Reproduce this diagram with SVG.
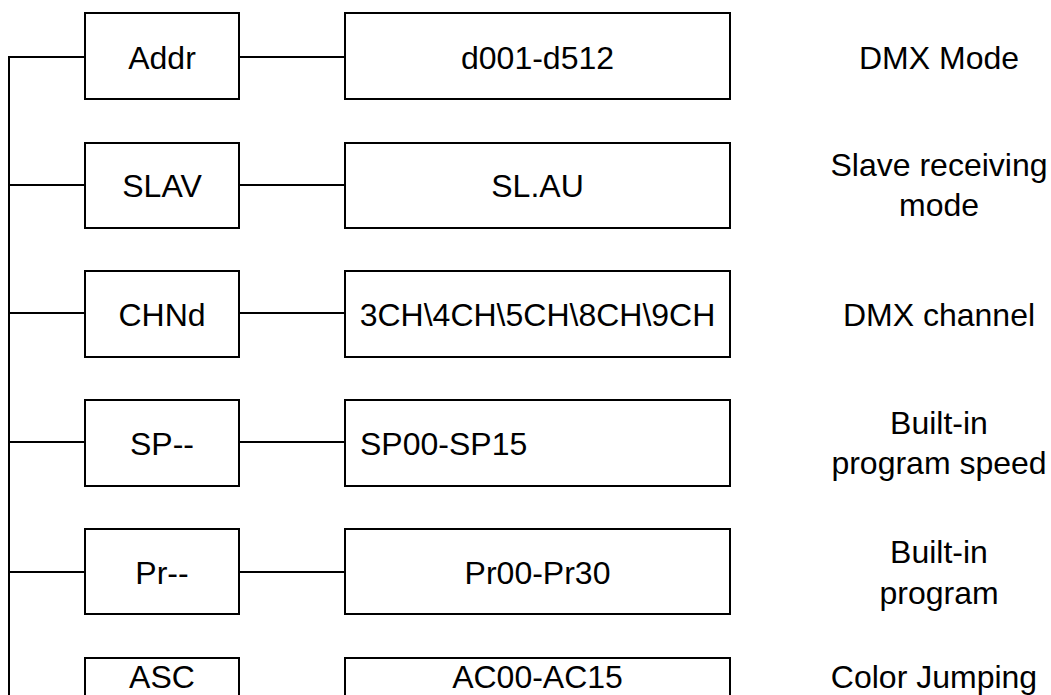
<svg xmlns="http://www.w3.org/2000/svg" width="1051" height="695" viewBox="0 0 1051 695">
<style>
.box{fill:#fff;stroke:#000;stroke-width:2}
.ln{stroke:#000;stroke-width:2;fill:none}
text{font-family:"Liberation Sans",Arial,sans-serif;font-size:32px;fill:#000}
.m{text-anchor:middle}
</style>
<rect width="1051" height="695" fill="#fff"/>
<g id="connectors">
<line class="ln" x1="9" y1="57" x2="9" y2="702"/>
<line class="ln" x1="8" y1="57" x2="85" y2="57"/>
<line class="ln" x1="239" y1="57" x2="345" y2="57"/>
<line class="ln" x1="9" y1="185" x2="85" y2="185"/>
<line class="ln" x1="239" y1="185" x2="345" y2="185"/>
<line class="ln" x1="9" y1="313" x2="85" y2="313"/>
<line class="ln" x1="239" y1="313" x2="345" y2="313"/>
<line class="ln" x1="9" y1="442" x2="85" y2="442"/>
<line class="ln" x1="239" y1="442" x2="345" y2="442"/>
<line class="ln" x1="9" y1="572" x2="85" y2="572"/>
<line class="ln" x1="239" y1="572" x2="345" y2="572"/>
</g>
<g id="addr"><rect class="box" x="85" y="13" width="154" height="86"/><text class="m" x="162" y="68.5">Addr</text></g>
<g id="addr-val"><rect class="box" x="345" y="13" width="385" height="86"/><text class="m" x="537.5" y="68.5">d001-d512</text></g>
<g id="addr-desc"><text class="m" x="939" y="68.5">DMX Mode</text></g>
<g id="slav"><rect class="box" x="85" y="143" width="154" height="85"/><text class="m" x="162" y="197">SLAV</text></g>
<g id="slav-val"><rect class="box" x="345" y="143" width="385" height="85"/><text class="m" x="537.5" y="197">SL.AU</text></g>
<g id="slav-desc"><text class="m" x="939" y="176">Slave receiving</text><text class="m" x="939" y="216">mode</text></g>
<g id="chnd"><rect class="box" x="85" y="271" width="154" height="86"/><text class="m" x="162" y="325.5">CHNd</text></g>
<g id="chnd-val"><rect class="box" x="345" y="271" width="385" height="86"/><text class="m" x="537.5" y="325.5">3CH\4CH\5CH\8CH\9CH</text></g>
<g id="chnd-desc"><text class="m" x="939" y="325.5">DMX channel</text></g>
<g id="sp"><rect class="box" x="85" y="400" width="154" height="86"/><text class="m" x="162" y="454.5">SP--</text></g>
<g id="sp-val"><rect class="box" x="345" y="400" width="385" height="86"/><text x="360" y="454.5">SP00-SP15</text></g>
<g id="sp-desc"><text class="m" x="939" y="434">Built-in</text><text class="m" x="939" y="474">program speed</text></g>
<g id="pr"><rect class="box" x="85" y="529" width="154" height="85"/><text class="m" x="162" y="583.5">Pr--</text></g>
<g id="pr-val"><rect class="box" x="345" y="529" width="385" height="85"/><text class="m" x="537.5" y="583.5">Pr00-Pr30</text></g>
<g id="pr-desc"><text class="m" x="939" y="563">Built-in</text><text class="m" x="939" y="604">program</text></g>
<g id="asc"><rect class="box" x="85" y="658" width="154" height="86"/><text class="m" x="162" y="688">ASC</text></g>
<g id="asc-val"><rect class="box" x="345" y="658" width="385" height="86"/><text class="m" x="537.5" y="688">AC00-AC15</text></g>
<g id="asc-desc"><text class="m" x="934" y="688">Color Jumping</text></g>
</svg>
